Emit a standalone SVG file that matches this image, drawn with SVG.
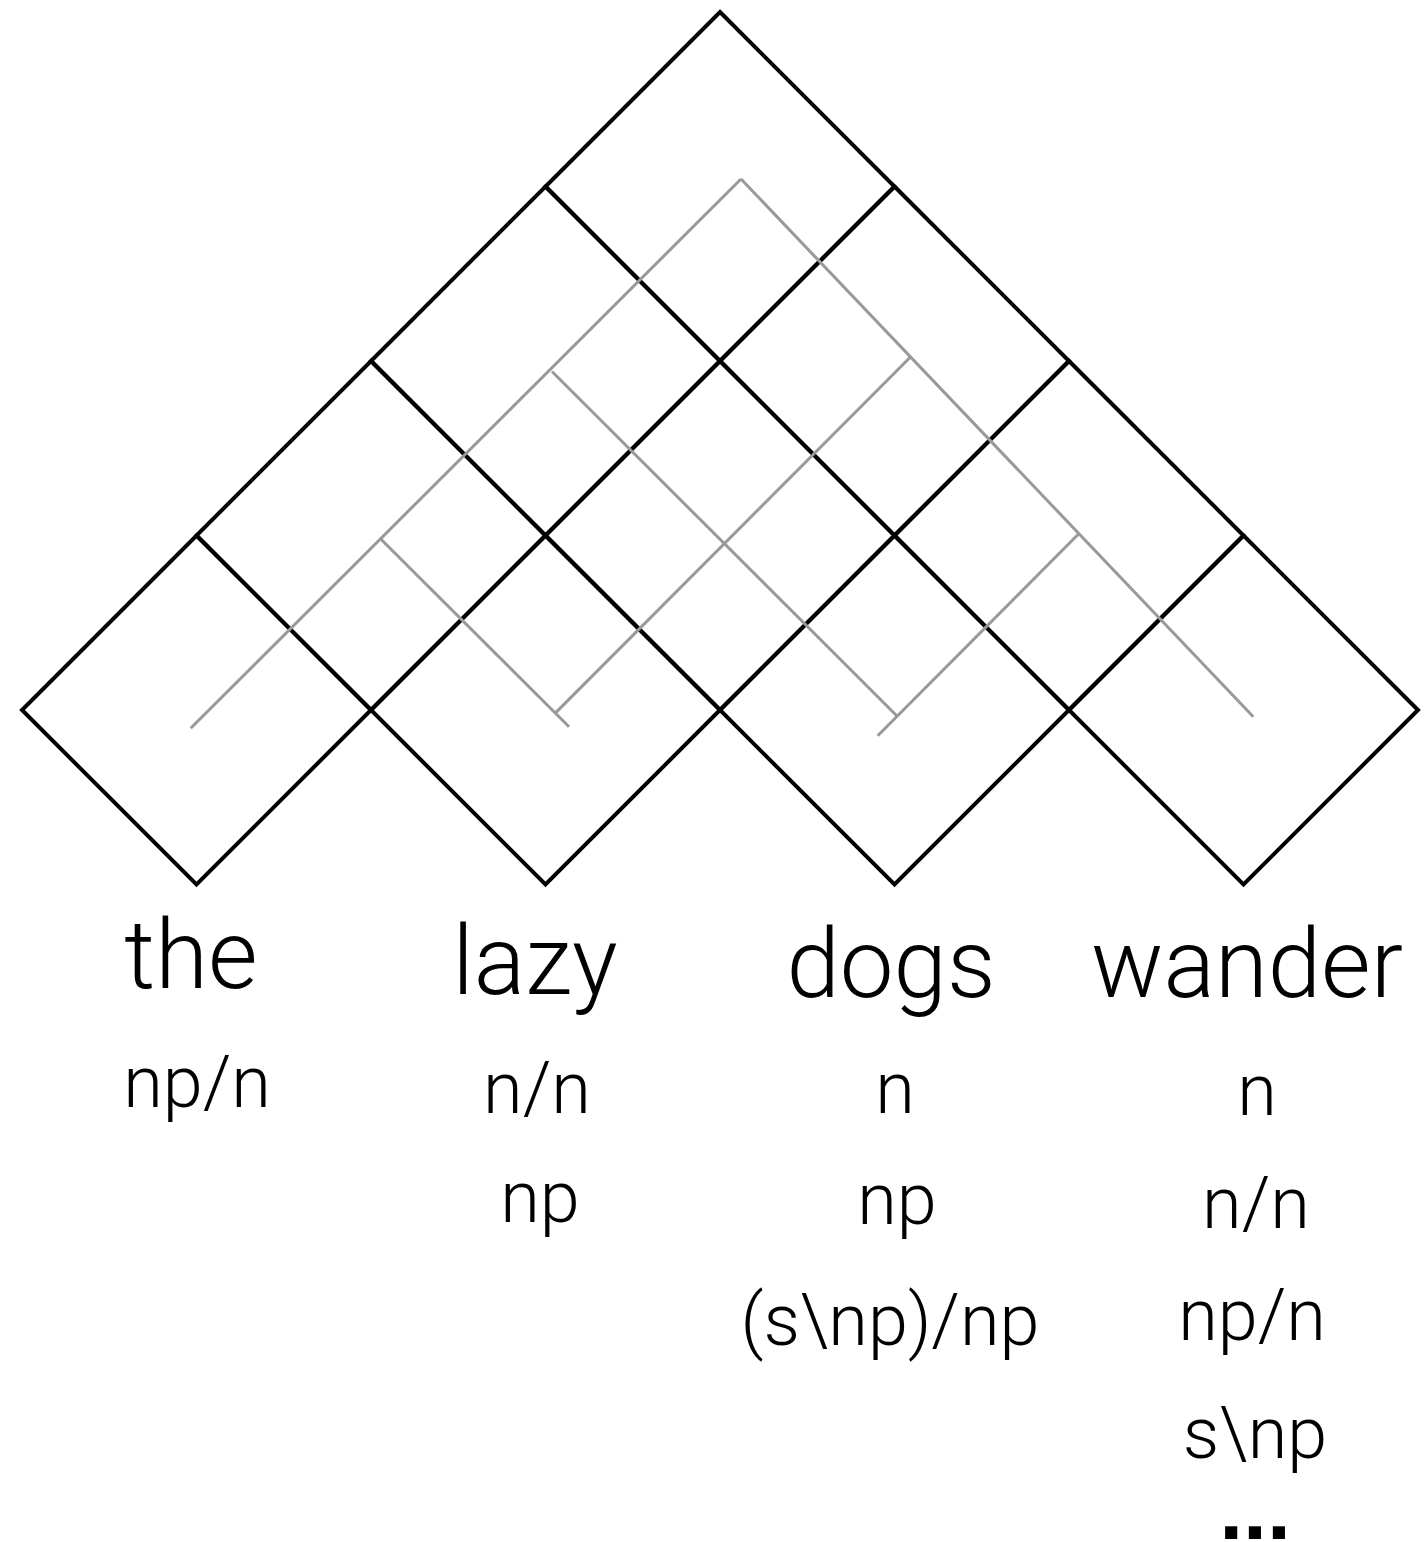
<svg xmlns="http://www.w3.org/2000/svg" xmlns:xlink="http://www.w3.org/1999/xlink" width="1425" height="1542" viewBox="0 0 1425 1542">
  <style>
    .cell { fill: none; stroke: #000; stroke-width: 4; stroke-linejoin: miter; }
    .tree { fill: none; stroke: #999; stroke-width: 3; stroke-linecap: butt; }
    .word { font-family: Roboto, "Liberation Sans", sans-serif; font-weight: 300; font-size: 96px; fill: #000; text-anchor: middle; }
    .cat { font-family: Roboto, "Liberation Sans", sans-serif; font-weight: 300; font-size: 72px; fill: #000; text-anchor: middle; }
    .dots { font-family: "Liberation Sans", sans-serif; font-weight: bold; font-size: 86px; fill: #000; text-anchor: middle; }
  </style>
  <defs>
    <polygon id="diamond" points="0,-174.5 174.5,0 0,174.5 -174.5,0"/>
  </defs>
  <rect width="1425" height="1542" fill="#fff"/>

  <g id="chart">
    <g id="cell-1-1"><use xlink:href="#diamond" class="cell" x="196.5" y="710"/></g>
    <g id="cell-2-2"><use xlink:href="#diamond" class="cell" x="545.5" y="710"/></g>
    <g id="cell-3-3"><use xlink:href="#diamond" class="cell" x="894.5" y="710"/></g>
    <g id="cell-4-4"><use xlink:href="#diamond" class="cell" x="1243.5" y="710"/></g>
    <g id="cell-1-2"><use xlink:href="#diamond" class="cell" x="371" y="535.5"/></g>
    <g id="cell-2-3"><use xlink:href="#diamond" class="cell" x="720" y="535.5"/></g>
    <g id="cell-3-4"><use xlink:href="#diamond" class="cell" x="1069" y="535.5"/></g>
    <g id="cell-1-3"><use xlink:href="#diamond" class="cell" x="545.5" y="361"/></g>
    <g id="cell-2-4"><use xlink:href="#diamond" class="cell" x="894.5" y="361"/></g>
    <g id="cell-1-4"><use xlink:href="#diamond" class="cell" x="720" y="186.5"/></g>
  </g>

  <g id="connectors" class="tree">
    <line x1="190.7" y1="728.3" x2="741" y2="179"/>
    <line x1="741" y1="179" x2="1253.3" y2="716.7"/>
    <line x1="381" y1="539.3" x2="569" y2="726.7"/>
    <line x1="910" y1="357.5" x2="555" y2="713.4"/>
    <line x1="552" y1="371.5" x2="897" y2="716"/>
    <line x1="1078.3" y1="534.3" x2="877.7" y2="735.7"/>
  </g>

  <g id="word-the">
    <text class="word" x="191" y="988">the</text>
    <text class="cat" x="197" y="1107">np/n</text>
  </g>
  <g id="word-lazy">
    <text class="word" x="535" y="994">lazy</text>
    <text class="cat" x="537" y="1113">n/n</text>
    <text class="cat" x="540" y="1222">np</text>
  </g>
  <g id="word-dogs">
    <text class="word" x="891" y="997">dogs</text>
    <text class="cat" x="895" y="1113">n</text>
    <text class="cat" x="897" y="1224">np</text>
    <text class="cat" x="890" y="1345">(s\np)/np</text>
  </g>
  <g id="word-wander">
    <text class="word" x="1247" y="997">wander</text>
    <text class="cat" x="1257" y="1115">n</text>
    <text class="cat" x="1256" y="1228">n/n</text>
    <text class="cat" x="1252" y="1340">np/n</text>
    <text class="cat" x="1255" y="1458">s\np</text>
    <text class="dots" x="1255" y="1539">...</text>
  </g>
</svg>
